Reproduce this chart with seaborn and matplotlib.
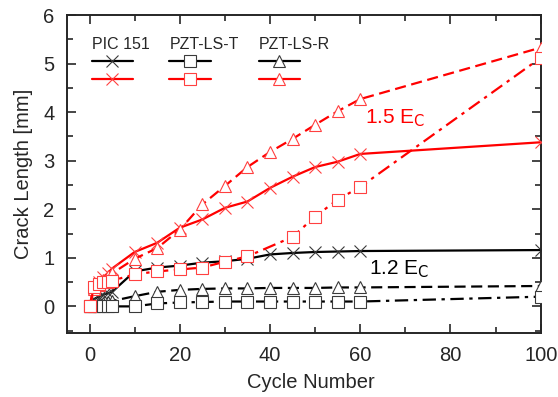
import matplotlib
matplotlib.use("Agg")
import matplotlib.pyplot as plt
import seaborn as sns
from matplotlib.lines import Line2D
from matplotlib.ticker import MultipleLocator

# Crack length data (mm) vs. cycle number
cycles = [0, 1, 2, 3, 4, 5, 10, 15, 20, 25, 30, 35, 40, 45, 50, 55, 60, 100]
cycles_lst15 = [0, 1, 2, 3, 4, 5, 10, 15, 20, 25, 30, 35, 45, 50, 55, 60, 100]

pic_12 = [0, 0.15, 0.2, 0.24, 0.27, 0.3, 0.72, 0.8, 0.84, 0.9, 0.93, 0.98, 1.07, 1.1, 1.12, 1.13, 1.14, 1.16]
lst_12 = [0, 0, 0, 0, 0, 0, 0.0, 0.06, 0.08, 0.09, 0.1, 0.1, 0.1, 0.1, 0.1, 0.1, 0.1, 0.2]
lsr_12 = [0, 0.03, 0.05, 0.07, 0.09, 0.11, 0.21, 0.3, 0.34, 0.36, 0.37, 0.37, 0.38, 0.38, 0.38, 0.39, 0.39, 0.42]

pic_15 = [0, 0.4, 0.5, 0.6, 0.68, 0.78, 1.12, 1.31, 1.62, 1.79, 2.03, 2.16, 2.44, 2.67, 2.87, 2.98, 3.14, 3.38]
lst_15 = [0, 0.4, 0.46, 0.5, 0.51, 0.53, 0.66, 0.72, 0.76, 0.8, 0.92, 1.03, 1.43, 1.85, 2.2, 2.46, 5.12]
lsr_15 = [0, 0.35, 0.45, 0.55, 0.62, 0.68, 0.98, 1.2, 1.58, 2.1, 2.48, 2.87, 3.18, 3.45, 3.74, 4.02, 4.27, 5.33]

materials = ["PIC 151", "PZT-LS-T", "PZT-LS-R"]

sns.set_style("ticks")
plt.rcParams["font.family"] = ["Liberation Sans", "DejaVu Sans"]

fig = plt.figure(figsize=(5.58, 3.97), dpi=100)
ax = fig.add_axes([0.12, 0.161, 0.849, 0.801])

solid = "-"
dashdot = (0, (6, 2.5, 1.5, 2.5))
dashed = (0, (5, 2.5))

styles = {
    "PIC 151": dict(marker="x", ls=solid, ms=9),
    "PZT-LS-T": dict(marker="s", ls=dashdot, ms=8),
    "PZT-LS-R": dict(marker="^", ls=dashed, ms=8),
}
edge = {"black": "#3a3a3a", "red": "#ff4040"}

def draw(x, y, name, color, z):
    st = styles[name]
    sns.lineplot(x=x, y=y, ax=ax, color=color, linestyle=st["ls"], lw=1.6,
                 marker=st["marker"], markersize=st["ms"], markerfacecolor="white",
                 markeredgecolor=edge[color], markeredgewidth=0.8, legend=False,
                 estimator=None, sort=False, zorder=z)

# 1.2 Ec (black)
draw(cycles, pic_12, "PIC 151", "black", 2)
draw(cycles, lsr_12, "PZT-LS-R", "black", 3)
draw(cycles, lst_12, "PZT-LS-T", "black", 4)
# 1.5 Ec (red)
draw(cycles, pic_15, "PIC 151", "red", 5)
draw(cycles, lsr_15, "PZT-LS-R", "red", 6)
draw(cycles_lst15, lst_15, "PZT-LS-T", "red", 7)

ax.set_xlim(-5, 100)
ax.set_ylim(-0.55, 6)
ax.xaxis.set_major_locator(MultipleLocator(20))
ax.xaxis.set_minor_locator(MultipleLocator(10))
ax.yaxis.set_major_locator(MultipleLocator(1))
ax.yaxis.set_minor_locator(MultipleLocator(0.5))
ax.tick_params(which="both", direction="in", top=True, right=True, width=1.2,
               labelsize=14.5, pad=9)
ax.tick_params(which="major", length=6.5)
ax.tick_params(which="minor", length=4)
for sp in ax.spines.values():
    sp.set_linewidth(1.4)

ax.set_xlabel("Cycle Number", fontsize=14.5, labelpad=6, x=0.515)
ax.set_ylabel("Crack Length [mm]", fontsize=14.5, labelpad=7)

ax.text(61, 3.88, r"1.5 E$_\mathrm{C}$", color="red", fontsize=15, va="center")
ax.text(62, 0.76, r"1.2 E$_\mathrm{C}$", color="black", fontsize=15, va="center")

# legend: header row + black row + red row for each material
handles, labels = [], []
for name in materials:
    st = styles[name]
    handles.append(Line2D([], [], color="none"))
    labels.append(name)
    for c in ["black", "red"]:
        handles.append(Line2D([], [], color=c, lw=1.6, ls="-", marker=st["marker"],
                              markersize=st["ms"], markerfacecolor="white",
                              markeredgecolor=edge[c], markeredgewidth=0.8))
        labels.append("")

ax.legend(handles, labels, ncol=3, loc="upper left", bbox_to_anchor=(0.052, 0.93),
          frameon=False, fontsize=11.5, handlelength=2.6, handletextpad=-2.6,
          columnspacing=1.25, labelspacing=0.17, borderpad=0, borderaxespad=0)

fig.savefig("out.png", dpi=100)
